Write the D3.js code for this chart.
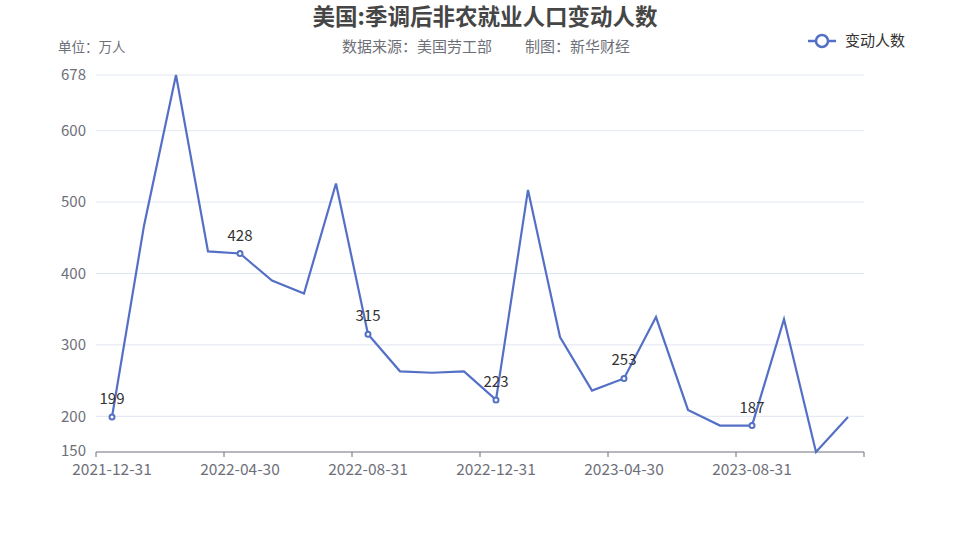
<!DOCTYPE html>
<html>
<head>
<meta charset="utf-8">
<script src="https://cdn.jsdelivr.net/npm/d3@7"></script>
<style>
  html, body { margin: 0; padding: 0; background: #fff; }
  svg { display: block; font-family: "Noto Sans CJK SC", "Noto Sans", sans-serif; }
</style>
</head>
<body>
<svg id="chart" width="959" height="540"></svg>
<script>
const categories = ["2021-12-31","2022-01-31","2022-02-28","2022-03-31","2022-04-30","2022-05-31","2022-06-30","2022-07-31","2022-08-31","2022-09-30","2022-10-31","2022-11-30","2022-12-31","2023-01-31","2023-02-28","2023-03-31","2023-04-30","2023-05-31","2023-06-30","2023-07-31","2023-08-31","2023-09-30","2023-10-31","2023-11-30"];
const values = [199,467,678,431,428,390,372,526,315,263,261,263,223,517,311,236,253,339,209,187,187,336,150,199];
const yTicks = [150,200,300,400,500,600,678];
const labelEvery = 4;
const seriesName = "变动人数";
const titleText = "美国:季调后非农就业人口变动人数";
const unitText = "单位：万人";
const sourceText = "数据来源：美国劳工部";
const makerText = "制图：新华财经";

const svg = d3.select("#chart");
const pLeft = 96, pRight = 864, pTop = 75, pBottom = 452;
const color = "#5470C6";

const x = d3.scaleBand().domain(categories).range([pLeft, pRight]);
const y = d3.scaleLinear().domain([150, 678]).range([pBottom, pTop]);
const cx = d => x(d) + x.bandwidth() / 2;

// grid
svg.append("g").selectAll("line").data(yTicks.filter(v => v !== 150)).join("line")
  .attr("x1", pLeft).attr("x2", pRight)
  .attr("y1", d => y(d)).attr("y2", d => y(d))
  .attr("stroke", "#E0E6F1").attr("stroke-width", 1);

// y labels
svg.append("g").selectAll("text").data(yTicks).join("text")
  .attr("x", pLeft - 10).attr("y", d => y(d) - (d === 150 ? 1 : 0)).attr("dy", "0.36em")
  .attr("text-anchor", "end").attr("fill", "#6E7079").attr("font-size", 15)
  .text(d => d);

// x axis line
svg.append("line").attr("x1", pLeft).attr("x2", pRight).attr("y1", pBottom).attr("y2", pBottom)
  .attr("stroke", "#6E7079").attr("stroke-width", 1);
const tickIdx = d3.range(0, categories.length + 1, labelEvery);
svg.append("g").selectAll("line").data(tickIdx).join("line")
  .attr("x1", i => i < categories.length ? x(categories[i]) : pRight)
  .attr("x2", i => i < categories.length ? x(categories[i]) : pRight)
  .attr("y1", pBottom).attr("y2", pBottom + 5)
  .attr("stroke", "#6E7079");
svg.append("g").selectAll("text").data(categories.filter((d, i) => i % labelEvery === 0)).join("text")
  .attr("x", d => cx(d)).attr("y", pBottom + 23)
  .attr("text-anchor", "middle").attr("fill", "#6E7079").attr("font-size", 15.5)
  .text(d => d);

// line
const line = d3.line().x((d, i) => cx(categories[i])).y(d => y(d));
svg.append("path").datum(values).attr("d", line)
  .attr("fill", "none").attr("stroke", color).attr("stroke-width", 2.2).attr("stroke-linejoin", "miter");

const marked = values.map((v, i) => ({v, i})).filter(d => d.i % labelEvery === 0);
svg.append("g").selectAll("circle").data(marked).join("circle")
  .attr("cx", d => cx(categories[d.i])).attr("cy", d => y(d.v)).attr("r", 2.5)
  .attr("fill", "#fff").attr("stroke", color).attr("stroke-width", 2);
svg.append("g").selectAll("text").data(marked).join("text")
  .attr("x", d => cx(categories[d.i])).attr("y", d => y(d.v) - 13)
  .attr("text-anchor", "middle").attr("fill", "#333").attr("font-size", 15)
  .text(d => d.v);

// title
svg.append("text").attr("x", 485).attr("y", 25).attr("text-anchor", "middle")
  .attr("font-size", 22.5).attr("font-weight", "bold").attr("fill", "#464646").text(titleText);
svg.append("text").attr("x", 58).attr("y", 52).attr("font-size", 13.5).attr("fill", "#6E7079").text(unitText);
svg.append("text").attr("x", 342).attr("y", 52).attr("font-size", 15).attr("fill", "#6E7079").text(sourceText);
svg.append("text").attr("x", 525).attr("y", 52).attr("font-size", 15).attr("fill", "#6E7079").text(makerText);

// legend
const lg = svg.append("g");
lg.append("line").attr("x1", 808).attr("x2", 836).attr("y1", 41).attr("y2", 41).attr("stroke", color).attr("stroke-width", 2.5);
lg.append("circle").attr("cx", 822).attr("cy", 41).attr("r", 6).attr("fill", "#fff").attr("stroke", color).attr("stroke-width", 2.5);
lg.append("text").attr("x", 845).attr("y", 41).attr("dy", "0.36em").attr("font-size", 15).attr("fill", "#333").text(seriesName);
</script>
</body>
</html>
